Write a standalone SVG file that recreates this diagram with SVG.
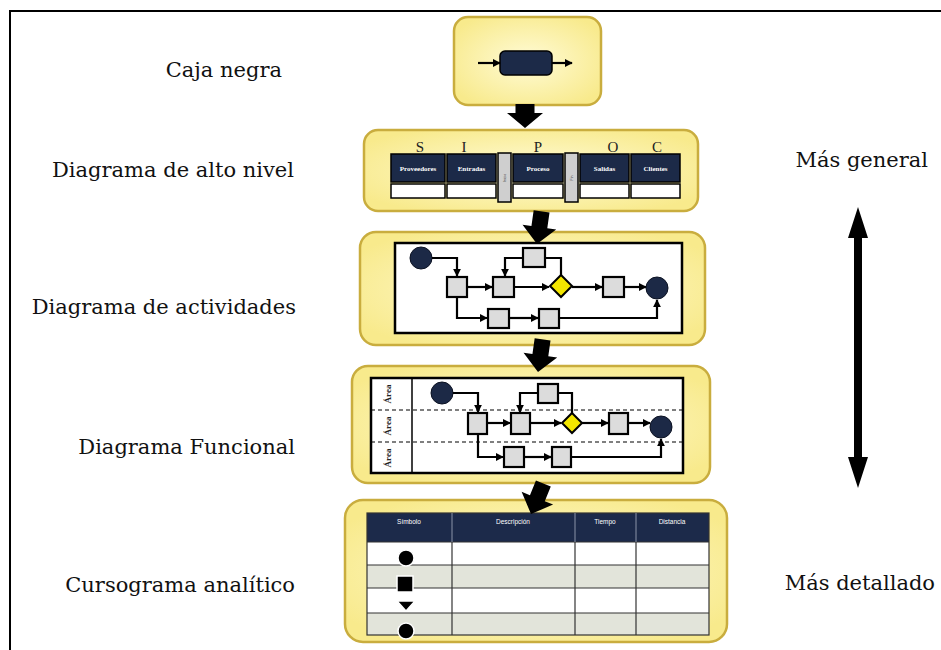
<svg xmlns="http://www.w3.org/2000/svg" width="941" height="650" viewBox="0 0 941 650">
<defs>
<radialGradient id="yg" cx="50%" cy="50%" r="60%">
<stop offset="0" stop-color="#fffbd6"/>
<stop offset="1" stop-color="#f8ea8c"/>
</radialGradient>
<marker id="ah" viewBox="0 0 10 10" refX="9" refY="5" markerWidth="8" markerHeight="8" markerUnits="userSpaceOnUse" orient="auto">
<path d="M0,0 L10,5 L0,10 Z" fill="#000"/>
</marker>
</defs>
<style>
.lvl{fill:url(#yg);stroke:#c9ad3e;stroke-width:2.5}
.lbl{font-family:"DejaVu Serif","Liberation Serif",serif;font-size:21px;fill:#111}
.navy{fill:#1c2a48}
.sq{fill:#dcdcdc;stroke:#000;stroke-width:2.2}
.ln{fill:none;stroke:#000;stroke-width:2.2}
.ar{fill:none;stroke:#000;stroke-width:2.2;marker-end:url(#ah)}
.dot{fill:#1c2946;stroke:#0c1222;stroke-width:1}
.dia{fill:#f3e600;stroke:#000;stroke-width:2}
.hd{font-family:"Liberation Serif",serif;font-size:7px;font-weight:bold;fill:#fff;text-anchor:middle}
.th{font-family:"Liberation Sans",sans-serif;font-size:6.5px;fill:#fff;text-anchor:middle}
.lt{font-family:"Liberation Serif",serif;font-size:15px;fill:#222;text-anchor:middle}
.area{font-family:"Liberation Serif",serif;font-size:9px;font-weight:bold;fill:#222;text-anchor:middle}
.big{fill:#000}
</style>
<rect width="941" height="650" fill="#fff"/>
<path d="M10,650 L10,11 L941,11" fill="none" stroke="#000" stroke-width="2"/>

<g id="labels">
<text class="lbl" x="282" y="77" text-anchor="end">Caja negra</text>
<text class="lbl" x="294" y="177" text-anchor="end">Diagrama de alto nivel</text>
<text class="lbl" x="296" y="314" text-anchor="end">Diagrama de actividades</text>
<text class="lbl" x="295" y="454" text-anchor="end">Diagrama Funcional</text>
<text class="lbl" x="295" y="592" text-anchor="end">Cursograma analítico</text>
<text class="lbl" x="928" y="167" text-anchor="end">Más general</text>
<text class="lbl" x="935" y="590" text-anchor="end">Más detallado</text>
</g>

<g id="caja-negra">
<rect class="lvl" x="454" y="17" width="147" height="88" rx="14"/>
<rect class="navy" x="500" y="51" width="52" height="24" rx="5" stroke="#000" stroke-width="1.5"/>
<line class="ar" x1="478" y1="63" x2="500" y2="63"/>
<line class="ar" x1="552" y1="63" x2="572" y2="63"/>
</g>

<g id="alto-nivel">
<rect class="lvl" x="364" y="130" width="334" height="81" rx="14"/>
<g class="lt">
<text x="420" y="152">S</text>
<text x="464" y="152">I</text>
<text x="538" y="152">P</text>
<text x="613" y="152">O</text>
<text x="657" y="152">C</text>
</g>
<g stroke="#000" stroke-width="1.5">
<rect class="navy" x="391" y="154" width="54" height="28"/>
<rect class="navy" x="447" y="154" width="49" height="28"/>
<rect class="navy" x="513" y="154" width="50" height="28"/>
<rect class="navy" x="580" y="154" width="49" height="28"/>
<rect class="navy" x="631" y="154" width="49" height="28"/>
<rect fill="#fff" x="391" y="184" width="54" height="14"/>
<rect fill="#fff" x="447" y="184" width="49" height="14"/>
<rect fill="#fff" x="513" y="184" width="50" height="14"/>
<rect fill="#fff" x="580" y="184" width="49" height="14"/>
<rect fill="#fff" x="631" y="184" width="49" height="14"/>
<rect fill="#cfcfcf" x="498" y="153" width="13" height="49"/>
<rect fill="#cfcfcf" x="565" y="153" width="13" height="49"/>
</g>
<text class="hd" x="418" y="171">Proveedores</text>
<text class="hd" x="471.5" y="171">Entradas</text>
<text class="hd" x="538" y="171">Proceso</text>
<text class="hd" x="604.5" y="171">Salidas</text>
<text class="hd" x="655.5" y="171">Clientes</text>
<text font-family="Liberation Sans,sans-serif" font-size="3.5" fill="#333" text-anchor="middle" transform="translate(506,178) rotate(-90)">Inicio</text>
<text font-family="Liberation Sans,sans-serif" font-size="3.5" fill="#333" text-anchor="middle" transform="translate(573,178) rotate(-90)">Fin</text>
</g>

<g id="actividades">
<rect class="lvl" x="360" y="232" width="345" height="113" rx="16"/>
<rect x="395" y="243" width="287" height="90" fill="#fff" stroke="#000" stroke-width="2.5"/>
<circle class="dot" cx="421" cy="258" r="11"/>
<path class="ar" d="M432,258 H457 V276"/>
<rect class="sq" x="447" y="277" width="20" height="20"/>
<line class="ar" x1="467" y1="287" x2="492" y2="287"/>
<rect class="sq" x="493" y="277" width="21" height="20"/>
<line class="ar" x1="514" y1="287" x2="549" y2="287"/>
<polygon class="dia" points="561,275 572,286 561,297 550,286"/>
<path class="ln" d="M561,275 V258 H545"/>
<rect class="sq" x="523" y="248" width="22" height="19"/>
<path class="ar" d="M523,258 H505 V276"/>
<line class="ar" x1="572" y1="287" x2="602" y2="287"/>
<rect class="sq" x="603" y="277" width="21" height="20"/>
<line class="ar" x1="624" y1="287" x2="646" y2="287"/>
<circle class="dot" cx="657" cy="288" r="11"/>
<path class="ar" d="M457,297 V318 H487"/>
<rect class="sq" x="488" y="309" width="21" height="19"/>
<line class="ar" x1="509" y1="318" x2="538" y2="318"/>
<rect class="sq" x="539" y="309" width="20" height="19"/>
<path class="ar" d="M559,318 H657 V300"/>
</g>

<g id="funcional">
<rect class="lvl" x="352" y="366" width="358" height="117" rx="16"/>
<rect x="371" y="378" width="312" height="95" fill="#fff" stroke="#000" stroke-width="2.5"/>
<line x1="412" y1="378" x2="412" y2="473" stroke="#000" stroke-width="1.5"/>
<line x1="371" y1="410" x2="683" y2="410" stroke="#000" stroke-width="1.2" stroke-dasharray="4,3"/>
<line x1="371" y1="442" x2="683" y2="442" stroke="#000" stroke-width="1.2" stroke-dasharray="4,3"/>
<text class="area" transform="translate(391,394) rotate(-90)">Área</text>
<text class="area" transform="translate(391,426) rotate(-90)">Área</text>
<text class="area" transform="translate(391,458) rotate(-90)">Área</text>
<circle class="dot" cx="442" cy="393" r="11"/>
<path class="ar" d="M453,393 H478 V412"/>
<rect class="sq" x="468" y="413" width="19" height="21"/>
<line class="ar" x1="487" y1="423" x2="510" y2="423"/>
<rect class="sq" x="511" y="413" width="19" height="21"/>
<line class="ar" x1="530" y1="423" x2="561" y2="423"/>
<polygon class="dia" points="572,413 582,423 572,433 562,423"/>
<path class="ln" d="M572,413 V393 H558"/>
<rect class="sq" x="538" y="384" width="20" height="19"/>
<path class="ar" d="M538,393 H520 V412"/>
<line class="ar" x1="582" y1="423" x2="608" y2="423"/>
<rect class="sq" x="609" y="413" width="19" height="21"/>
<line class="ar" x1="628" y1="423" x2="650" y2="423"/>
<circle class="dot" cx="661" cy="427" r="11"/>
<path class="ar" d="M478,434 V457 H503"/>
<rect class="sq" x="504" y="447" width="20" height="20"/>
<line class="ar" x1="524" y1="457" x2="551" y2="457"/>
<rect class="sq" x="552" y="447" width="19" height="20"/>
<path class="ar" d="M571,457 H661 V439"/>
</g>

<g id="cursograma">
<rect class="lvl" x="345" y="500" width="382" height="142" rx="18"/>
<rect x="367" y="513" width="342" height="29" fill="#1c2a4a"/>
<rect x="367" y="542" width="342" height="23" fill="#fff"/>
<rect x="367" y="565" width="342" height="23" fill="#e2e4da"/>
<rect x="367" y="588" width="342" height="25" fill="#fff"/>
<rect x="367" y="613" width="342" height="22" fill="#e2e4da"/>
<g stroke="#333" stroke-width="1.2" fill="none">
<rect x="367" y="513" width="342" height="122"/>
<line x1="367" y1="542" x2="709" y2="542"/>
<line x1="367" y1="565" x2="709" y2="565"/>
<line x1="367" y1="588" x2="709" y2="588"/>
<line x1="367" y1="613" x2="709" y2="613"/>
<line x1="452" y1="542" x2="452" y2="635"/>
<line x1="575" y1="542" x2="575" y2="635"/>
<line x1="636" y1="542" x2="636" y2="635"/>
</g>
<g stroke="#8a93a8" stroke-width="1">
<line x1="452" y1="513" x2="452" y2="542"/>
<line x1="575" y1="513" x2="575" y2="542"/>
<line x1="636" y1="513" x2="636" y2="542"/>
</g>
<text class="th" x="409" y="524">Símbolo</text>
<text class="th" x="513" y="524">Descripción</text>
<text class="th" x="605" y="524">Tiempo</text>
<text class="th" x="672" y="524">Distancia</text>
<circle cx="406" cy="558" r="8" fill="#000" stroke="#fff" stroke-width="1.5"/>
<rect x="397" y="576" width="16" height="16" fill="#000" stroke="#fff" stroke-width="1.5"/>
<polygon points="397,601 415,601 406,611" fill="#000" stroke="#fff" stroke-width="1.5"/>
<circle cx="406" cy="631" r="8" fill="#000" stroke="#fff" stroke-width="1.5"/>
</g>

<g id="connectors">
<path class="big" transform="translate(525,128)" d="M0,0 L-18,-15 L-9.5,-15 L-9.5,-24 L9.5,-24 L9.5,-15 L18,-15 Z"/>
<path class="big" transform="translate(537,244) rotate(8)" d="M0,0 L-17,-17 L-8,-17 L-8,-33 L8,-33 L8,-17 L17,-17 Z"/>
<path class="big" transform="translate(538,372) rotate(8)" d="M0,0 L-17,-17 L-8,-17 L-8,-33 L8,-33 L8,-17 L17,-17 Z"/>
<path class="big" transform="translate(531,514) rotate(22)" d="M0,0 L-17,-17 L-8,-17 L-8,-33 L8,-33 L8,-17 L17,-17 Z"/>
<path class="big" d="M858,207 L868,238 L862,238 L862,457 L868,457 L858,488 L848,457 L854,457 L854,238 L848,238 Z"/>
</g>
</svg>
